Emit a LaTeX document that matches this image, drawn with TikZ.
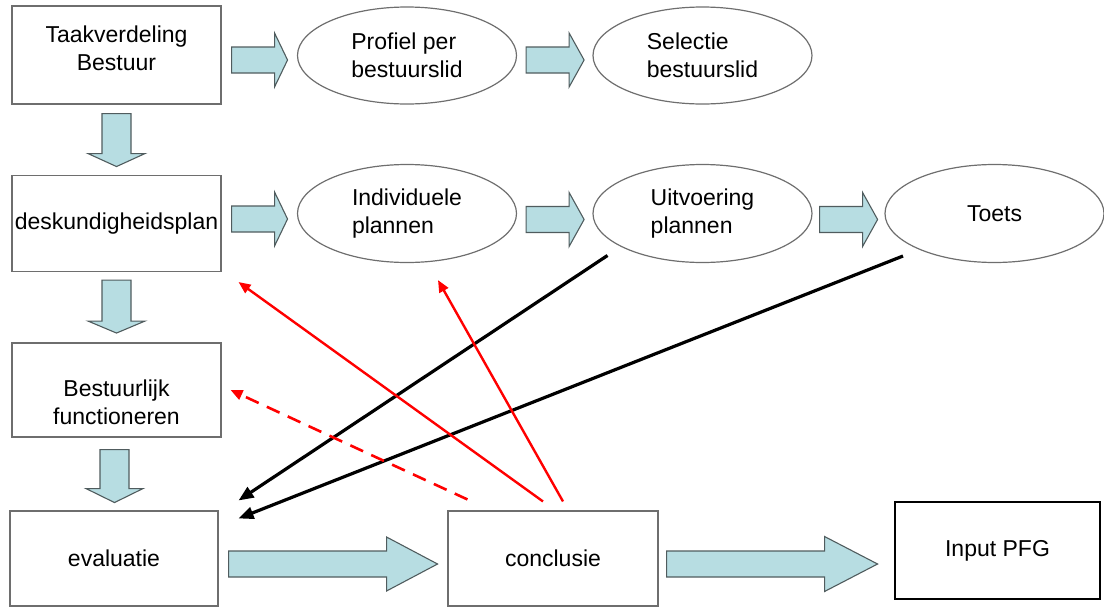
\documentclass[tikz,border=0pt]{standalone}
\usepackage{fontspec}
\setmainfont{Liberation Sans}
\usetikzlibrary{calc,shapes.geometric,arrows.meta}
\definecolor{arrowblue}{RGB}{183,221,226}
\definecolor{arrowline}{RGB}{80,92,94}
\definecolor{boxline}{RGB}{110,110,110}
\tikzset{
  pics/blockarrow/.style n args={4}{code={
    \draw[fill=arrowblue, draw=arrowline, line width=1.1pt, line join=miter]
      (0,-#2) -- (#1-#4,-#2) -- (#1-#4,-#3) -- (#1,0) -- (#1-#4,#3) -- (#1-#4,#2) -- (0,#2) -- cycle;}}
}
\begin{document}
\begin{tikzpicture}[x=1pt, y=-1pt,
    every node/.style={font=\fontsize{23}{28}\selectfont, inner sep=0pt, align=center},
    taskbox/.style={draw=boxline, line width=1.1pt, rectangle, minimum width=#1, minimum height=96},
    planoval/.style={draw=boxline, line width=1.2pt, ellipse, align=left, minimum width=219, minimum height=98},
    backline/.style={line width=3.2pt, -{Triangle[length=15pt,width=12pt]}},
    redline/.style={red, line width=2.4pt, -{Triangle[length=12pt,width=10pt]}}]
    \useasboundingbox (0,0) rectangle (1104,608);
    % left column and bottom row
    \node[taskbox=209, minimum height=98] (tb) at (116.5,55) {};
    \node (tbtext) at ($(tb)+(0,-7)$) {Taakverdeling\\Bestuur};
    \node[taskbox=209] (dp) at (116.5,223.5) {deskundigheidsplan};
    \node[taskbox=209, minimum height=94] (bf) at (116.5,390) {};
    \node (bftext) at ($(bf)+(0,12)$) {Bestuurlijk\\functioneren};
    \node[taskbox=208, minimum height=95] (ev) at (114,558.5) {evaluatie};
    \node[taskbox=210, minimum height=95] (co) at (553,558.5) {conclusie};
    \node[taskbox=205, minimum height=97, draw=black, line width=2pt] (ip) at (997.5,550.5) {Input PFG};
    % ovals
    \node[planoval, minimum height=97] (pp) at (407,55.5) {Profiel per\\bestuurslid};
    \node[planoval, minimum height=97] (sb) at (702.5,55.5) {Selectie\\bestuurslid};
    \node[planoval] (ipl) at (407,213.5) {Individuele\\plannen};
    \node[planoval] (up) at (702.5,213.5) {Uitvoering\\plannen};
    \node[planoval] (ts) at (994.5,213.5) {Toets};
    % block arrows
    \pic at ($(tb.east)+(10,5)$) {blockarrow={56}{13}{27}{13}};
    \pic at ($(pp.east)+(9,4.5)$) {blockarrow={58}{13}{27}{15}};
    \pic at ($(dp.east)+(10,-4.5)$) {blockarrow={56}{13}{27}{13}};
    \pic at ($(ipl.east)+(9,6)$) {blockarrow={58}{13}{27}{15}};
    \pic at ($(up.east)+(7,6)$) {blockarrow={58}{13}{27}{15}};
    \pic at ($(ev.east)+(10,5.5)$) {blockarrow={209}{13}{27}{51}};
    \pic at ($(co.east)+(8,5.5)$) {blockarrow={211}{13}{27.5}{53}};
    \pic[rotate=-90] at ($(tb.south)+(0,9)$) {blockarrow={53}{14.5}{28.5}{13}};
    \pic[rotate=-90] at ($(dp.south)+(0,8)$) {blockarrow={53}{14.5}{28.5}{12}};
    \pic[rotate=-90] at ($(bf.south)+(-2,12)$) {blockarrow={53}{14.5}{28.5}{14}};
    % feedback lines
    \draw[backline] ($(up.center)+(-95,42)$) -- ($(ev.north east)+(20,-10)$);
    \draw[backline] ($(ts.center)+(-91.5,42.5)$) -- ($(ev.north east)+(20,8)$);
    \draw[redline] ($(co.north)+(-10,-9)$) -- ($(dp.south east)+(17,10)$);
    \draw[redline] ($(co.north)+(10,-9)$) -- ($(ipl.south)+(31,17)$);
    \draw[redline, line width=2.6pt, dash pattern=on 14pt off 9pt] ($(co.north west)+(20,-11)$) -- ($(bf.east)+(9,0)$);
\end{tikzpicture}
\end{document}
